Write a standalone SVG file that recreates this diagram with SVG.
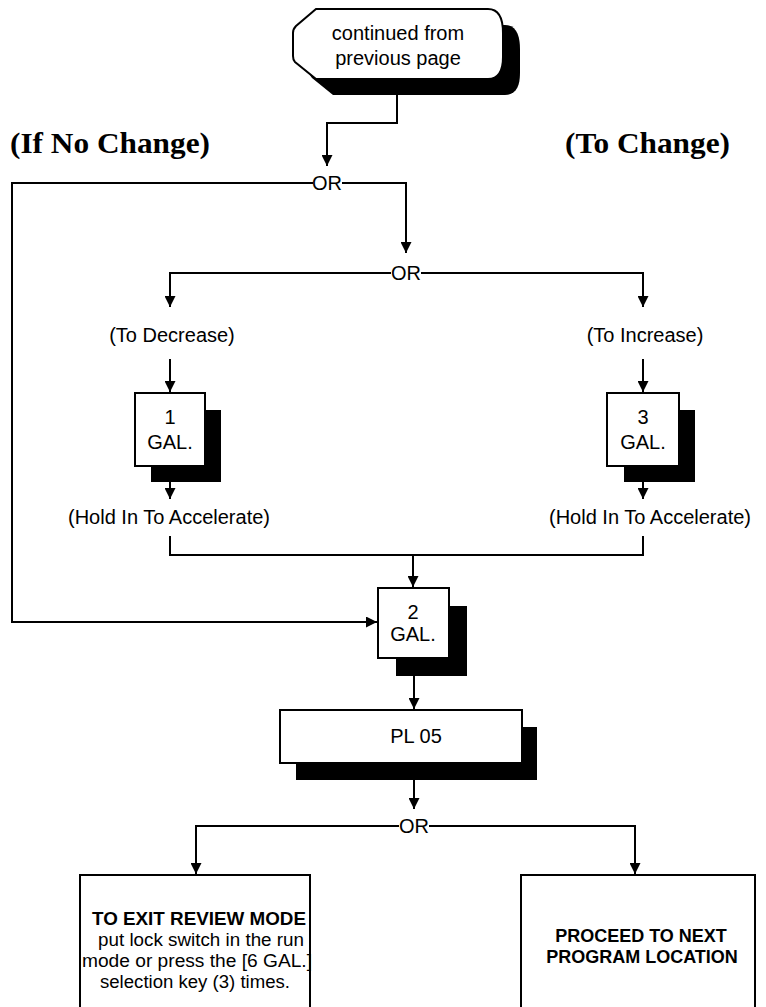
<svg xmlns="http://www.w3.org/2000/svg" width="766" height="1007" viewBox="0 0 766 1007">
<style>
.ln{fill:none;stroke:#000;stroke-width:2}
.bx{fill:#fff;stroke:#000;stroke-width:2}
.sh{fill:#000}
.t{font-family:"Liberation Sans",Arial,sans-serif;font-size:20px;fill:#000;text-anchor:middle}
.s{font-size:18px}
.bt{font-family:"Liberation Sans",Arial,sans-serif;font-size:18px;font-weight:bold;fill:#000;text-anchor:middle}
.h{font-family:"Liberation Serif","Times New Roman",serif;font-size:30px;font-weight:bold;fill:#000}
</style>
<defs>
<marker id="ar" viewBox="0 0 10 10" refX="10" refY="5" markerWidth="11" markerHeight="11" markerUnits="userSpaceOnUse" orient="auto">
<path d="M0,0 L10,5 L0,10 z" fill="#000"/>
</marker>
<path id="term" d="M316,9 L488,9 C500,9 503,21 503,33 L503,57 C503,70 499,79 488,79 L316,79 L295,62 C293,60 293,58 293,56 L293,33 C293,30 294,28 296,26 Z"/>
</defs>
<rect width="766" height="1007" fill="#fff"/>
<text class="h" x="10" y="153" textLength="200" lengthAdjust="spacingAndGlyphs">(If No Change)</text>
<text class="h" x="565" y="153" textLength="165" lengthAdjust="spacingAndGlyphs">(To Change)</text>
<g id="connectors">
<path class="ln" d="M397,95 V123 H327 V166" marker-end="url(#ar)"/>
<path class="ln" d="M313,183 H12 V622 H377" marker-end="url(#ar)"/>
<path class="ln" d="M342,183 H406 V253" marker-end="url(#ar)"/>
<path class="ln" d="M391,273 H170 V307" marker-end="url(#ar)"/>
<path class="ln" d="M421,273 H643 V307" marker-end="url(#ar)"/>
<path class="ln" d="M170,359 V392" marker-end="url(#ar)"/>
<path class="ln" d="M643,359 V392" marker-end="url(#ar)"/>
<path class="ln" d="M170,482 V499" marker-end="url(#ar)"/>
<path class="ln" d="M643,482 V499" marker-end="url(#ar)"/>
<path class="ln" d="M170,536 V555 H643 V536"/>
<path class="ln" d="M413,555 V587" marker-end="url(#ar)"/>
<path class="ln" d="M414,676 V709" marker-end="url(#ar)"/>
<path class="ln" d="M414,780 V809" marker-end="url(#ar)"/>
<path class="ln" d="M399,826 H196 V874" marker-end="url(#ar)"/>
<path class="ln" d="M429,826 H635 V874" marker-end="url(#ar)"/>
</g>
<g id="start">
<use href="#term" transform="translate(17,16)" class="sh"/>
<use href="#term" class="bx"/>
<text class="t" x="398" y="40">continued from</text>
<text class="t" x="398" y="65">previous page</text>
</g>
<g id="or1"><text class="t" x="327" y="190">OR</text></g>
<g id="or2"><text class="t" x="406" y="280">OR</text></g>
<g id="decrease"><text class="t" x="172" y="342">(To Decrease)</text></g>
<g id="increase"><text class="t" x="645" y="342">(To Increase)</text></g>
<g id="gal1">
<rect class="sh" x="151" y="410" width="70" height="72"/>
<rect class="bx" x="135" y="393" width="70" height="73"/>
<text class="t" x="170" y="424">1</text>
<text class="t" x="170" y="449">GAL.</text>
</g>
<g id="gal3">
<rect class="sh" x="624" y="410" width="71" height="72"/>
<rect class="bx" x="607" y="393" width="72" height="73"/>
<text class="t" x="643" y="424">3</text>
<text class="t" x="643" y="449">GAL.</text>
</g>
<g id="hold1"><text class="t" x="169" y="524" font-size="22">(Hold In To Accelerate)</text></g>
<g id="hold3"><text class="t" x="650" y="524" font-size="22">(Hold In To Accelerate)</text></g>
<g id="gal2">
<rect class="sh" x="396" y="606" width="71" height="70"/>
<rect class="bx" x="378" y="588" width="71" height="70"/>
<text class="t" x="413" y="619">2</text>
<text class="t" x="413" y="641">GAL.</text>
</g>
<g id="pl05">
<rect class="sh" x="296" y="727" width="241" height="53"/>
<rect class="bx" x="280" y="710" width="242" height="53"/>
<text class="t" x="416" y="743">PL 05</text>
</g>
<g id="or3"><text class="t" x="414" y="833">OR</text></g>
<g id="exit">
<rect class="bx" x="80" y="875" width="230" height="140"/>
<text class="bt" x="92" y="925" style="text-anchor:start" textLength="214" lengthAdjust="spacingAndGlyphs">TO EXIT REVIEW MODE</text>
<text class="t s" x="98" y="946" style="text-anchor:start" textLength="206" lengthAdjust="spacingAndGlyphs">put lock switch in the run</text>
<text class="t s" x="82" y="967" style="text-anchor:start" textLength="230" lengthAdjust="spacingAndGlyphs">mode or press the [6 GAL.]</text>
<text class="t s" x="100" y="988" style="text-anchor:start" textLength="190" lengthAdjust="spacingAndGlyphs">selection key (3) times.</text>
</g>
<g id="proceed">
<rect class="bx" x="521" y="875" width="234" height="140"/>
<text class="bt" x="641" y="942">PROCEED TO NEXT</text>
<text class="bt" x="642" y="963">PROGRAM LOCATION</text>
</g>
</svg>
